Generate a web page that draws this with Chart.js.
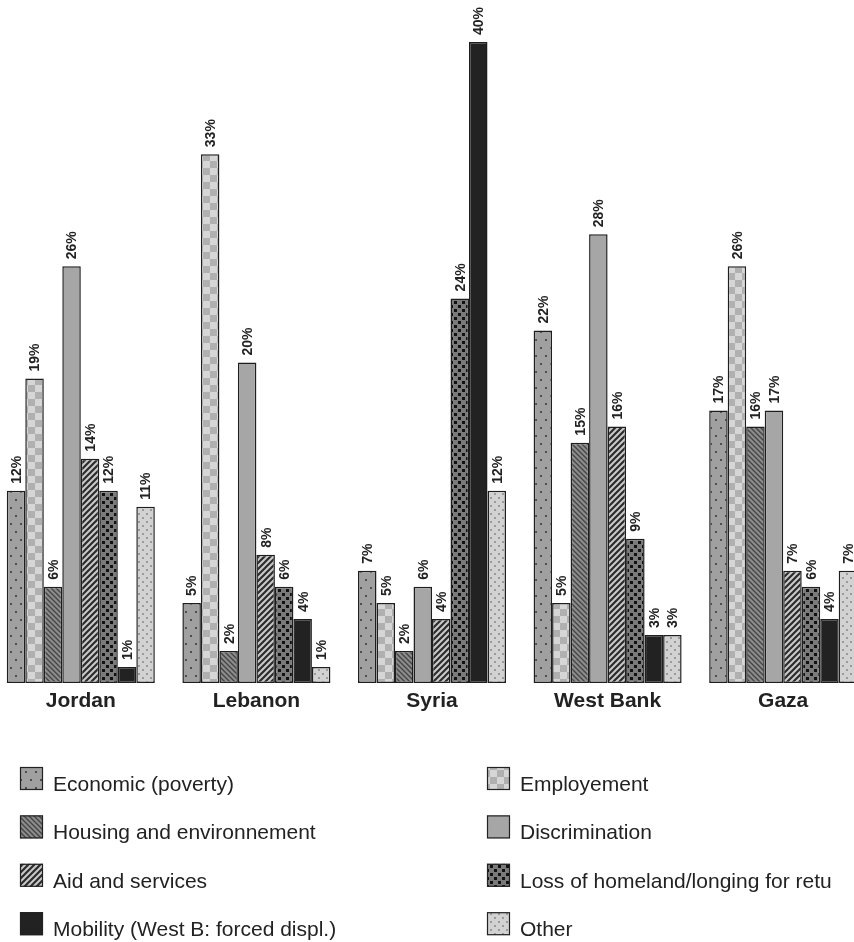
<!DOCTYPE html>
<html>
<head>
<meta charset="utf-8">
<script src="https://cdn.jsdelivr.net/npm/chart.js@4.4.1/dist/chart.umd.min.js"></script>
<style>
  html, body { margin: 0; padding: 0; background: #fff; overflow: hidden; width: 854px; height: 942px; }
  #wrap { position: absolute; left: -7px; top: 0; width: 878px; height: 942px; }
</style>
</head>
<body>
<div id="wrap"><canvas id="chart" width="878" height="942"></canvas></div>
<script>
// Regions surveyed
const categories = ['Jordan', 'Lebanon', 'Syria', 'West Bank', 'Gaza'];

// Share of respondents (%) per theme
const economic       = [12, 5, 7, 22, 17];
const employment     = [19, 33, 5, 5, 26];
const housing        = [6, 2, 2, 15, 16];
const discrimination = [26, 20, 6, 28, 17];
const aid            = [14, 8, 4, 16, 7];
const loss           = [12, 6, 24, 9, 6];
const mobility       = [1, 4, 40, 3, 4];
const other          = [11, 1, 12, 3, 7];

const seriesLabels = [
  'Economic (poverty)', 'Employement',
  'Housing and environnement', 'Discrimination',
  'Aid and services', 'Loss of homeland/longing for retu',
  'Mobility (West B: forced displ.)', 'Other'
];
const seriesValues = [economic, employment, housing, discrimination, aid, loss, mobility, other];

// ---- fill patterns ----
function tile(w, h, draw) {
  const c = document.createElement('canvas');
  c.width = w; c.height = h;
  const g = c.getContext('2d');
  draw(g, w, h);
  return document.createElement('canvas').getContext('2d').createPattern(c, 'repeat');
}
const fills = [
  // dotted mid grey
  tile(10, 16, (g) => {
    g.fillStyle = '#a0a0a0'; g.fillRect(0, 0, 10, 16);
    g.fillStyle = '#4e4e4e';
    g.fillRect(2, 3, 2, 2); g.fillRect(7, 11, 2, 2);
  }),
  // checkerboard
  tile(14, 14, (g) => {
    g.fillStyle = '#d6d6d6'; g.fillRect(0, 0, 14, 14);
    g.fillStyle = '#b0b0b0'; g.fillRect(0, 0, 7, 7); g.fillRect(7, 7, 7, 7);
  }),
  // back-slash hatching
  tile(5, 5, (g) => {
    g.fillStyle = '#8c8c8c'; g.fillRect(0, 0, 5, 5);
    g.strokeStyle = '#444'; g.lineWidth = 1.3;
    g.beginPath(); g.moveTo(-1, -1); g.lineTo(6, 6);
    g.moveTo(4, -1); g.lineTo(6, 1); g.moveTo(-1, 4); g.lineTo(1, 6); g.stroke();
  }),
  // solid grey
  '#a6a6a6',
  // forward-slash stripes
  tile(6, 6, (g) => {
    g.fillStyle = '#cacaca'; g.fillRect(0, 0, 6, 6);
    g.strokeStyle = '#2c2c2c'; g.lineWidth = 2.2;
    g.beginPath(); g.moveTo(-1, 7); g.lineTo(7, -1);
    g.moveTo(-1, 1); g.lineTo(1, -1); g.moveTo(5, 7); g.lineTo(7, 5); g.stroke();
  }),
  // dark grey with black squares
  tile(8, 8, (g) => {
    g.fillStyle = '#7a7a7a'; g.fillRect(0, 0, 8, 8);
    g.fillStyle = '#111';
    g.fillRect(1, 1, 3, 3); g.fillRect(5, 5, 3, 3);
  }),
  // solid black
  '#222222',
  // light grey dotted
  tile(8, 8, (g) => {
    g.fillStyle = '#d2d2d2'; g.fillRect(0, 0, 8, 8);
    g.fillStyle = '#9a9a9a';
    g.fillRect(1, 1, 2, 2); g.fillRect(5, 5, 2, 2);
  })
];

Chart.defaults.font.family = '"Liberation Sans", Arial, Helvetica, sans-serif';
Chart.defaults.color = '#222';

// value labels written vertically above each bar
const valueLabels = {
  id: 'valueLabels',
  afterDatasetsDraw(chart) {
    const ctx = chart.ctx;
    ctx.save();
    ctx.font = 'bold 14px "Liberation Sans", Arial, sans-serif';
    ctx.fillStyle = '#222';
    ctx.textAlign = 'left';
    ctx.textBaseline = 'middle';
    chart.data.datasets.forEach((ds, di) => {
      chart.getDatasetMeta(di).data.forEach((bar, i) => {
        ctx.save();
        ctx.translate(bar.x + 1, bar.y - 7);
        ctx.rotate(-Math.PI / 2);
        ctx.fillText(ds.data[i] + '%', 0, 0);
        ctx.restore();
      });
    });
    ctx.restore();
  }
};

// two-column key below the axis
const keyPlugin = {
  id: 'keyPlugin',
  afterDraw(chart) {
    const ctx = chart.ctx;
    ctx.save();
    ctx.font = '21px "Liberation Sans", Arial, sans-serif';
    ctx.textAlign = 'left';
    ctx.textBaseline = 'alphabetic';
    chart.data.datasets.forEach((ds, i) => {
      const col = i % 2, row = Math.floor(i / 2);
      const x = (col === 0 ? 20 : 487) + 7;
      const y = 767 + row * 48.4;
      ctx.fillStyle = ds.backgroundColor;
      ctx.fillRect(x, y, 23, 23);
      ctx.strokeStyle = '#222';
      ctx.lineWidth = 1.2;
      ctx.strokeRect(x + 0.5, y + 0.5, 22, 22);
      ctx.fillStyle = '#222';
      ctx.fillText(ds.label, x + 33, y + 24);
    });
    ctx.restore();
  }
};

new Chart(document.getElementById('chart'), {
  type: 'bar',
  data: {
    labels: categories,
    datasets: seriesValues.map((vals, i) => ({
      label: seriesLabels[i],
      data: vals,
      backgroundColor: fills[i],
      borderColor: '#1e1e1e',
      borderWidth: 1.5,
      borderSkipped: false
    }))
  },
  options: {
    responsive: false,
    animation: false,
    devicePixelRatio: 1,
    layout: { padding: { top: 42, left: 0, right: 0, bottom: 0 } },
    datasets: { bar: { categoryPercentage: 0.843, barPercentage: 1 } },
    plugins: { legend: { display: false }, tooltip: { enabled: false } },
    scales: {
      y: { display: false, min: 0, max: 40 },
      x: {
        grid: { display: false, drawTicks: false },
        border: { display: false },
        ticks: { font: { size: 21, weight: 'bold' }, color: '#222', padding: 6 },
        afterFit(scale) { scale.height = 259; }
      }
    }
  },
  plugins: [valueLabels, keyPlugin]
});
</script>
</body>
</html>
